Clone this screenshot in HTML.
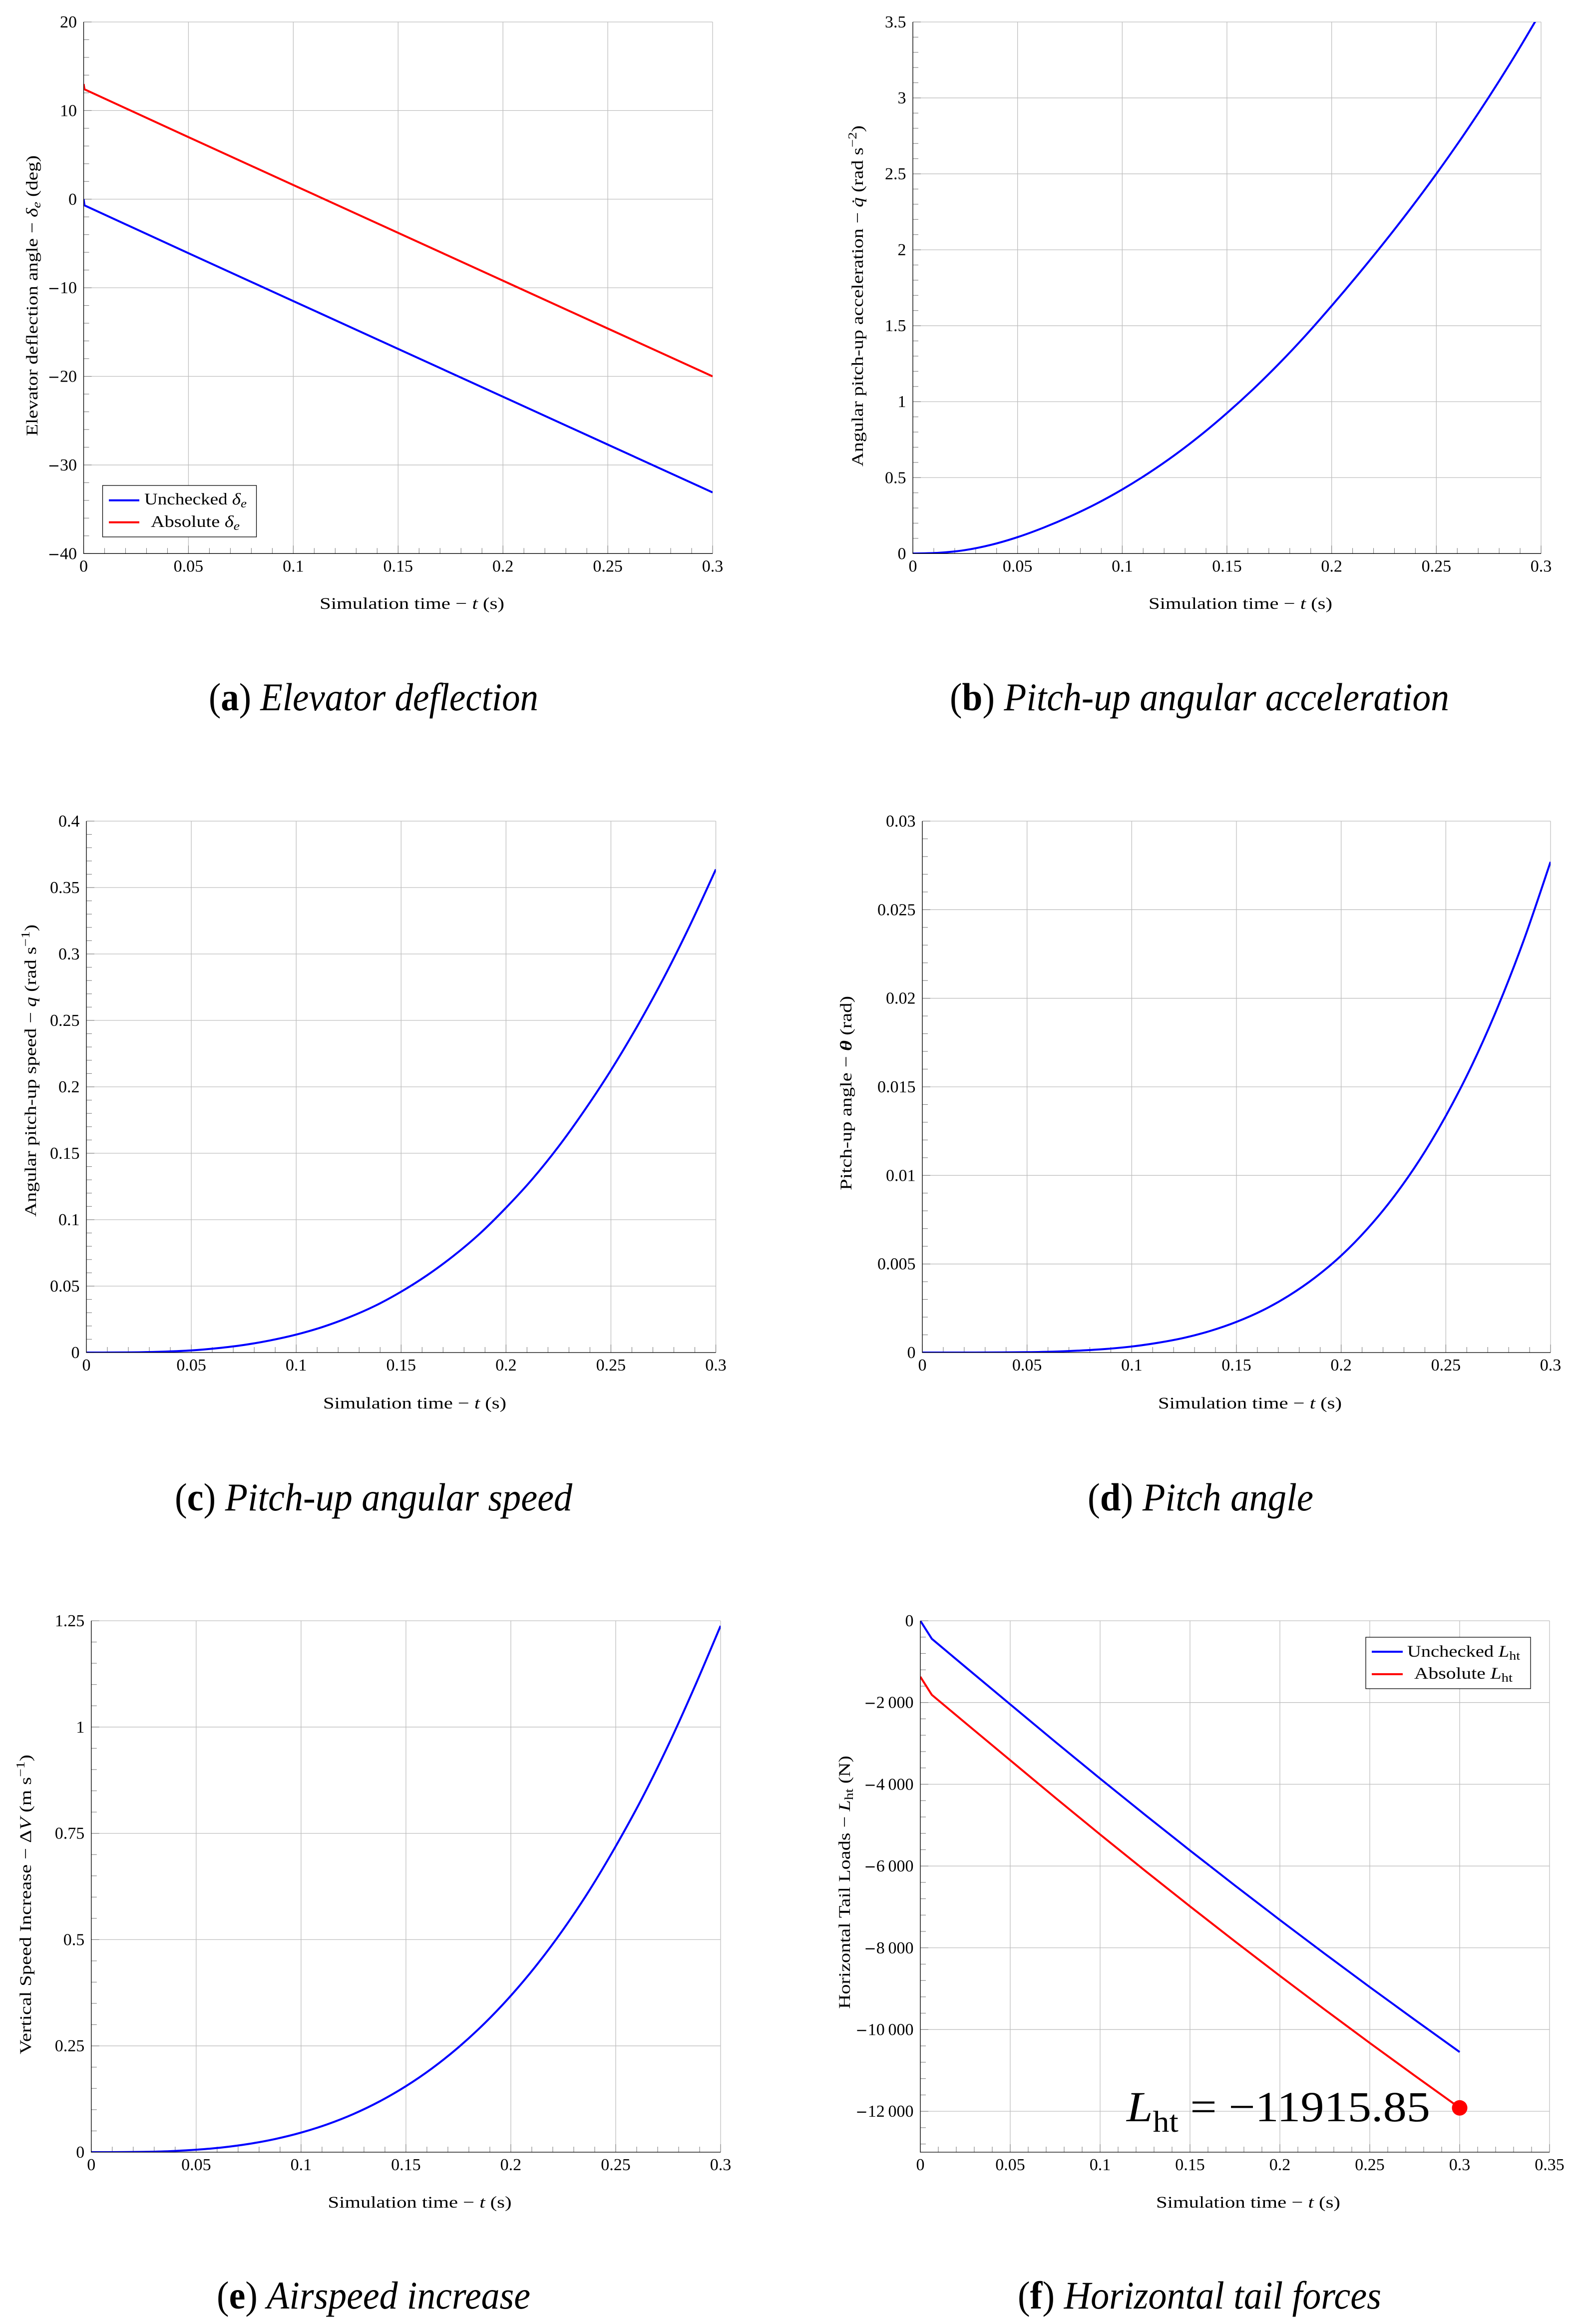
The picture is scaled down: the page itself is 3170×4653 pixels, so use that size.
<!DOCTYPE html>
<html lang="en">
<head>
<meta charset="utf-8">
<title>Elevator and pitch-up simulation charts</title>
<style>
html,body{margin:0;padding:0;background:#fff;}
svg{display:block;}
text{font-family:"Liberation Serif","DejaVu Serif",serif;fill:#000;}
.axt{font-size:33px;}
.leg{font-size:33px;}
.cap{font-size:78px;}
.it{font-style:italic;}
.bd{font-weight:bold;}
</style>
</head>
<body>
<svg xmlns="http://www.w3.org/2000/svg" width="3170" height="4653" viewBox="0 0 3170 4653">
<rect x="0" y="0" width="3170" height="4653" fill="#fff"/>

<g>
  <g id="plot-a"></g>
  <g>
    <rect x="205.5" y="972" width="308" height="103" fill="#fff" stroke="#000" stroke-width="1.3"/>
    <line x1="218" x2="279" y1="1001.7" y2="1001.7" stroke="#0000ff" stroke-width="4"/>
    <text class="leg" x="289" y="1010" textLength="205" lengthAdjust="spacingAndGlyphs">Unchecked <tspan class="it">δ</tspan><tspan class="it" font-size="24" dy="6">e</tspan></text>
    <line x1="218" x2="279" y1="1045.7" y2="1045.7" stroke="#ff0000" stroke-width="4"/>
    <text class="leg" x="302" y="1055" textLength="178" lengthAdjust="spacingAndGlyphs">Absolute <tspan class="it">δ</tspan><tspan class="it" font-size="24" dy="6">e</tspan></text>
  </g>
  <text class="axt" x="640" y="1219" textLength="370" lengthAdjust="spacingAndGlyphs">Simulation time − <tspan class="it">t</tspan> (s)</text>
  <text class="axt" transform="rotate(-90 75 873)" x="75" y="873" textLength="562" lengthAdjust="spacingAndGlyphs">Elevator deflection angle − <tspan class="it">δ</tspan><tspan class="it" font-size="24" dy="6">e</tspan><tspan dy="-6"> (deg)</tspan></text>
  <text class="cap" x="418" y="1422" textLength="660" lengthAdjust="spacingAndGlyphs">(<tspan class="bd">a</tspan>) <tspan class="it">Elevator deflection</tspan></text>
</g>

<g>
  <g id="plot-b"></g>
  <text class="axt" x="2300" y="1219" textLength="368" lengthAdjust="spacingAndGlyphs">Simulation time − <tspan class="it">t</tspan> (s)</text>
  <text class="axt" transform="rotate(-90 1728 934)" x="1728" y="934" textLength="683" lengthAdjust="spacingAndGlyphs">Angular pitch-up acceleration − <tspan class="it">q̇</tspan> (rad s<tspan font-size="24" dy="-13">−2</tspan><tspan dy="13">)</tspan></text>
  <text class="cap" x="1902" y="1422" textLength="1000" lengthAdjust="spacingAndGlyphs">(<tspan class="bd">b</tspan>) <tspan class="it">Pitch-up angular acceleration</tspan></text>
</g>

<g>
  <g id="plot-c"></g>
  <text class="axt" x="647" y="2820" textLength="367" lengthAdjust="spacingAndGlyphs">Simulation time − <tspan class="it">t</tspan> (s)</text>
  <text class="axt" transform="rotate(-90 72 2436)" x="72" y="2436" textLength="585" lengthAdjust="spacingAndGlyphs">Angular pitch-up speed − <tspan class="it">q</tspan> (rad s<tspan font-size="24" dy="-13">−1</tspan><tspan dy="13">)</tspan></text>
  <text class="cap" x="350" y="3024" textLength="796" lengthAdjust="spacingAndGlyphs">(<tspan class="bd">c</tspan>) <tspan class="it">Pitch-up angular speed</tspan></text>
</g>

<g>
  <g id="plot-d"></g>
  <text class="axt" x="2319" y="2820" textLength="368" lengthAdjust="spacingAndGlyphs">Simulation time − <tspan class="it">t</tspan> (s)</text>
  <text class="axt" transform="rotate(-90 1705 2383)" x="1705" y="2383" textLength="389" lengthAdjust="spacingAndGlyphs">Pitch-up angle − <tspan class="it bd">θ</tspan> (rad)</text>
  <text class="cap" x="2178" y="3024" textLength="452" lengthAdjust="spacingAndGlyphs">(<tspan class="bd">d</tspan>) <tspan class="it">Pitch angle</tspan></text>
</g>

<g>
  <g id="plot-e"></g>
  <text class="axt" x="656.5" y="4420" textLength="368" lengthAdjust="spacingAndGlyphs">Simulation time − <tspan class="it">t</tspan> (s)</text>
  <text class="axt" transform="rotate(-90 62 4113)" x="62" y="4113" textLength="600" lengthAdjust="spacingAndGlyphs">Vertical Speed Increase − Δ<tspan class="it">V</tspan> (m s<tspan font-size="24" dy="-13">−1</tspan><tspan dy="13">)</tspan></text>
  <text class="cap" x="434" y="4622" textLength="628" lengthAdjust="spacingAndGlyphs">(<tspan class="bd">e</tspan>) <tspan class="it">Airspeed increase</tspan></text>
</g>

<g>
  <g id="plot-f"></g>
  <text x="2256" y="4247" font-size="86" textLength="608" lengthAdjust="spacingAndGlyphs"><tspan class="it">L</tspan><tspan font-size="60" dy="21">ht</tspan><tspan dy="-21"> = −11915.85</tspan></text>
  <g id="marker-f"></g>
  <g>
    <rect x="2735" y="3278" width="330" height="103" fill="#fff" stroke="#000" stroke-width="1.3"/>
    <line x1="2747" x2="2809" y1="3307" y2="3307" stroke="#0000ff" stroke-width="4"/>
    <text class="leg" x="2818" y="3317" textLength="226" lengthAdjust="spacingAndGlyphs">Unchecked <tspan class="it">L</tspan><tspan font-size="24" dy="6">ht</tspan></text>
    <line x1="2747" x2="2809" y1="3352" y2="3352" stroke="#ff0000" stroke-width="4"/>
    <text class="leg" x="2832" y="3361" textLength="197" lengthAdjust="spacingAndGlyphs">Absolute <tspan class="it">L</tspan><tspan font-size="24" dy="6">ht</tspan></text>
  </g>
  <text class="axt" x="2315" y="4420" textLength="369" lengthAdjust="spacingAndGlyphs">Simulation time − <tspan class="it">t</tspan> (s)</text>
  <text class="axt" transform="rotate(-90 1702 4022)" x="1702" y="4022" textLength="507" lengthAdjust="spacingAndGlyphs">Horizontal Tail Loads − <tspan class="it">L</tspan><tspan font-size="24" dy="6">ht</tspan><tspan dy="-6"> (N)</tspan></text>
  <text class="cap" x="2038" y="4622" textLength="728" lengthAdjust="spacingAndGlyphs">(<tspan class="bd">f</tspan>) <tspan class="it">Horizontal tail forces</tspan></text>
</g>
</svg>

<script>
// ---- shared x values and tick labels ----
const simTimes = [0,0.0125,0.025,0.0375,0.05,0.0625,0.075,0.0875,0.1,0.1125,0.125,0.1375,0.15,0.1625,0.175,0.1875,0.2,0.2125,0.225,0.2375,0.25,0.2625,0.275,0.2875,0.3];
const xTicks = [0,0.05,0.1,0.15,0.2,0.25,0.3];
const xTickLabels = ['0','0.05','0.1','0.15','0.2','0.25','0.3'];
const xTicksF = [0,0.05,0.1,0.15,0.2,0.25,0.3,0.35];
const xTickLabelsF = ['0','0.05','0.1','0.15','0.2','0.25','0.3','0.35'];

// ---- (a) elevator deflection ----
const elevatorTimes = [0,0.0004,0.05,0.1,0.15,0.2,0.25,0.3];
const elevatorUnchecked = [0,-0.7,-6.1,-11.5,-16.9,-22.3,-27.7,-33.1];
const elevatorAbsolute = [13,12.4,7.0,1.6,-3.8,-9.2,-14.6,-20.0];
const yTicksA = [-40,-30,-20,-10,0,10,20];
const yLabelsA = ['−40','−30','−20','−10','0','10','20'];

// ---- (b) pitch-up angular acceleration ----
const pitchAccel = [0,0.005,0.023,0.058,0.108,0.171,0.244,0.327,0.422,0.529,0.648,0.78,0.925,1.082,1.252,1.435,1.631,1.835,2.047,2.268,2.5,2.745,3.004,3.278,3.568];
const yTicksB = [0,0.5,1,1.5,2,2.5,3,3.5];
const yLabelsB = ['0','0.5','1','1.5','2','2.5','3','3.5'];

// ---- (c) pitch-up angular speed ----
const pitchSpeed = [0,0.00003,0.0002,0.0007,0.0016,0.0033,0.0057,0.0091,0.0135,0.0192,0.0264,0.0351,0.0458,0.0583,0.0728,0.0895,0.109,0.1305,0.155,0.1825,0.2125,0.2455,0.2815,0.321,0.3637];
const yTicksC = [0,0.05,0.1,0.15,0.2,0.25,0.3,0.35,0.4];
const yLabelsC = ['0','0.05','0.1','0.15','0.2','0.25','0.3','0.35','0.4'];

// ---- (d) pitch angle ----
const pitchAngle = [0,0,0.0000013,0.000007,0.00002,0.00005,0.00011,0.0002,0.00034,0.00055,0.00083,0.00122,0.00173,0.00238,0.00321,0.00423,0.00547,0.00698,0.00877,0.01088,0.01336,0.01623,0.01956,0.02337,0.0277];
const yTicksD = [0,0.005,0.01,0.015,0.02,0.025,0.03];
const yLabelsD = ['0','0.005','0.01','0.015','0.02','0.025','0.03'];

// ---- (e) airspeed increase ----
const airspeedIncrease = [0,0.0001,0.0007,0.0024,0.0058,0.0112,0.0194,0.0308,0.046,0.0655,0.0898,0.1196,0.1553,0.1974,0.2465,0.3032,0.368,0.4414,0.524,0.6163,0.7195,0.832,0.9567,1.0932,1.238];
const yTicksE = [0,0.25,0.5,0.75,1,1.25];
const yLabelsE = ['0','0.25','0.5','0.75','1','1.25'];

// ---- (f) horizontal tail forces ----
const tailTimes = [0,0.0064,0.025,0.05,0.075,0.1,0.125,0.15,0.175,0.2,0.225,0.25,0.275,0.3];
const tailUnchecked = [0,-442,-1128,-2045,-2960,-3861,-4747,-5619,-6476,-7319,-8147,-8961,-9760,-10550];
const tailAbsolute = [-1370,-1813,-2497,-3412,-4327,-5228,-6114,-6986,-7843,-8686,-9514,-10328,-11127,-11915.85];
const tailMarkerTimes = [0.3];
const tailMarkerValues = [-11915.85];
const yTicksF = [-12000,-10000,-8000,-6000,-4000,-2000,0];
const yLabelsF = ['−12\u2009000','−10\u2009000','−8\u2009000','−6\u2009000','−4\u2009000','−2\u2009000','0'];

const SVG_NS = 'http://www.w3.org/2000/svg';

function mk(tag, parent, attrs) {
  const el = document.createElementNS(SVG_NS, tag);
  for (const k in attrs) el.setAttribute(k, attrs[k]);
  parent.appendChild(el);
  return el;
}

function linearScale(d0, d1, r0, r1) {
  return function (v) { return r0 + (v - d0) / (d1 - d0) * (r1 - r0); };
}

// Smooth path through the scaled data points (Catmull-Rom to cubic Bezier).
function smoothPath(px, py) {
  let d = 'M' + px[0].toFixed(2) + ' ' + py[0].toFixed(2);
  for (let i = 0; i < px.length - 1; i++) {
    const a = Math.max(i - 1, 0), b = Math.min(i + 2, px.length - 1);
    const c1x = px[i] + (px[i + 1] - px[a]) / 6;
    const c1y = py[i] + (py[i + 1] - py[a]) / 6;
    const c2x = px[i + 1] - (px[b] - px[i]) / 6;
    const c2y = py[i + 1] - (py[b] - py[i]) / 6;
    d += 'C' + c1x.toFixed(2) + ' ' + c1y.toFixed(2) + ' ' + c2x.toFixed(2) + ' ' + c2y.toFixed(2) + ' ' + px[i + 1].toFixed(2) + ' ' + py[i + 1].toFixed(2);
  }
  return d;
}

// Minor tick values: each major interval split in five, continuing to the domain limits.
function minorValues(ticks, lo, hi) {
  const step = (ticks[1] - ticks[0]) / 5;
  const out = [];
  const n = Math.round((hi - lo) / step);
  const start = ticks[0] - Math.ceil((ticks[0] - lo) / step - 1e-9) * step;
  for (let i = 0; i <= n; i++) {
    const v = start + i * step;
    if (v < lo - 1e-9 || v > hi + 1e-9) continue;
    const isMajor = ticks.some(function (t) { return Math.abs(t - v) < step / 100; });
    if (!isMajor) out.push(v);
  }
  return out;
}

function addTickLabel(parent, label, x, y, anchor) {
  const t = mk('text', parent, { x: x, y: y, 'text-anchor': anchor, 'font-size': 34 });
  
  
  if (label.charAt(0) === '−') {
    const m = mk('tspan', t, { style: 'font-family:"DejaVu Sans",sans-serif', 'font-size': 29 });
    
    
    m.textContent = '−';
    const rest = mk('tspan', t, {});
    
    
    rest.textContent = label.slice(1);
  } else {
    t.textContent = label;
  }
}

function drawChart(id, box, xDomain, yDomain, xT, xL, yT, yL, series) {
  const root = document.getElementById('plot-' + id);
  const sx = linearScale(xDomain[0], xDomain[1], box.left, box.right);
  const sy = linearScale(yDomain[0], yDomain[1], box.bottom, box.top);

  // grid
  xT.forEach(function (v) {
    const g = mk('line', root, { x1: sx(v), x2: sx(v), y1: box.top, y2: box.bottom, stroke: '#bfbfbf', 'stroke-width': 1.3 });
    
    
  });
  yT.forEach(function (v) {
    const g = mk('line', root, { x1: box.left, x2: box.right, y1: sy(v), y2: sy(v), stroke: '#bfbfbf', 'stroke-width': 1.3 });
    
    
  });

  // ticks
  xT.forEach(function (v) {
    const tk = mk('line', root, { x1: sx(v), x2: sx(v), y1: box.bottom, y2: box.bottom - 16, stroke: '#7f7f7f', 'stroke-width': 1.1 });
    
    
  });
  minorValues(xT, xDomain[0], xDomain[1]).forEach(function (v) {
    const tk = mk('line', root, { x1: sx(v), x2: sx(v), y1: box.bottom, y2: box.bottom - 11, stroke: '#7f7f7f', 'stroke-width': 1.1 });
    
    
  });
  yT.forEach(function (v) {
    const tk = mk('line', root, { x1: box.left, x2: box.left + 16, y1: sy(v), y2: sy(v), stroke: '#7f7f7f', 'stroke-width': 1.1 });
    
    
  });
  minorValues(yT, yDomain[0], yDomain[1]).forEach(function (v) {
    const tk = mk('line', root, { x1: box.left, x2: box.left + 11, y1: sy(v), y2: sy(v), stroke: '#7f7f7f', 'stroke-width': 1.1 });
    
    
  });

  // clip region
  const clip = mk('clipPath', root, { id: 'clip-' + id });
  
  
  const clipRect = mk('rect', clip, { x: box.left, y: box.top, width: box.right - box.left, height: box.bottom - box.top });
  
  

  // series
  series.forEach(function (s) {
    const px = s.x.map(sx);
    const py = s.y.map(sy);
    let d;
    if (s.smooth) {
      d = smoothPath(px, py);
    } else {
      d = 'M' + px.map(function (p, i) { return p.toFixed(2) + ' ' + py[i].toFixed(2); }).join('L');
    }
    const line = mk('path', root, { d: d, fill: 'none', stroke: s.color, 'stroke-width': 4, 'stroke-linejoin': 'round', 'clip-path': 'url(#clip-' + id + ')' });
    
    
  });

  // axis lines
  const ax = mk('line', root, { x1: box.left, x2: box.left, y1: box.top, y2: box.bottom + 0.6, stroke: '#000', 'stroke-width': 1.3 });
  
  
  const ay = mk('line', root, { x1: box.left, x2: box.right, y1: box.bottom, y2: box.bottom, stroke: '#000', 'stroke-width': 1.3 });
  
  

  // tick labels
  xT.forEach(function (v, i) { addTickLabel(root, xL[i], sx(v), box.bottom + box.xLabelGap, 'middle'); });
  yT.forEach(function (v, i) { addTickLabel(root, yL[i], box.left - 13.5, sy(v) + 11, 'end'); });

  return { sx: sx, sy: sy };
}

const boxA = { left: 167.5, right: 1427, top: 44, bottom: 1108.3, xLabelGap: 36 };
const boxB = { left: 1828, right: 3086, top: 44, bottom: 1108.3, xLabelGap: 36 };
const boxC = { left: 173, right: 1433.5, top: 1644, bottom: 2708, xLabelGap: 36 };
const boxD = { left: 1847, right: 3105, top: 1644, bottom: 2708, xLabelGap: 36 };
const boxE = { left: 182.8, right: 1443, top: 3245, bottom: 4309, xLabelGap: 36 };
const boxF = { left: 1843, right: 3103, top: 3245, bottom: 4309, xLabelGap: 36 };

drawChart('a', boxA, [0, 0.3], [-40, 20], xTicks, xTickLabels, yTicksA, yLabelsA, [
  { name: 'series-unchecked-elevator', color: '#0000ff', x: elevatorTimes, y: elevatorUnchecked, smooth: false },
  { name: 'series-absolute-elevator', color: '#ff0000', x: elevatorTimes, y: elevatorAbsolute, smooth: false }
]);
drawChart('b', boxB, [0, 0.3], [0, 3.5], xTicks, xTickLabels, yTicksB, yLabelsB, [
  { name: 'series-pitch-acceleration', color: '#0000ff', x: simTimes, y: pitchAccel, smooth: true }
]);
drawChart('c', boxC, [0, 0.3], [0, 0.4], xTicks, xTickLabels, yTicksC, yLabelsC, [
  { name: 'series-pitch-speed', color: '#0000ff', x: simTimes, y: pitchSpeed, smooth: true }
]);
drawChart('d', boxD, [0, 0.3], [0, 0.03], xTicks, xTickLabels, yTicksD, yLabelsD, [
  { name: 'series-pitch-angle', color: '#0000ff', x: simTimes, y: pitchAngle, smooth: true }
]);
drawChart('e', boxE, [0, 0.3], [0, 1.25], xTicks, xTickLabels, yTicksE, yLabelsE, [
  { name: 'series-airspeed-increase', color: '#0000ff', x: simTimes, y: airspeedIncrease, smooth: true }
]);
const scalesF = drawChart('f', boxF, [0, 0.35], [-13000, 0], xTicksF, xTickLabelsF, yTicksF, yLabelsF, [
  { name: 'series-unchecked-tail-load', color: '#0000ff', x: tailTimes, y: tailUnchecked, smooth: false },
  { name: 'series-absolute-tail-load', color: '#ff0000', x: tailTimes, y: tailAbsolute, smooth: false }
]);

const markerLayer = document.getElementById('marker-f');
tailMarkerTimes.forEach(function (t, i) {
  const dot = mk('circle', markerLayer, { cx: scalesF.sx(t), cy: scalesF.sy(tailMarkerValues[i]), r: 15.5, fill: '#ff0000' });
  
  
});
</script>
</body>
</html>
